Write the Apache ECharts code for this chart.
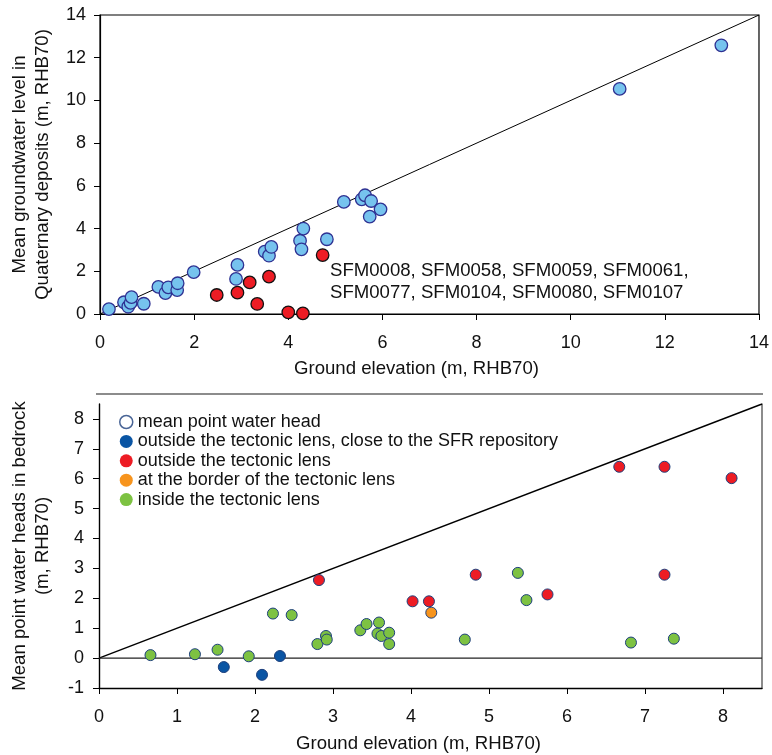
<!DOCTYPE html>
<html><head><meta charset="utf-8">
<script src="https://cdn.jsdelivr.net/npm/echarts@6/dist/echarts.min.js"></script>
<style>html,body{margin:0;padding:0;background:#fff}#c{width:772px;height:755px}</style>
</head><body><div id="c"></div>
<script>
// ---- Top panel: Quaternary deposits ----
const quatBlue = [[0.19,0.23],[0.51,0.55],[0.60,0.34],[0.65,0.52],[0.67,0.79],[0.93,0.48],[1.24,1.27],[1.39,0.98],[1.45,1.25],[1.64,1.12],[1.65,1.44],[1.99,1.96],[2.89,1.64],[2.92,2.30],[3.50,2.92],[3.59,2.73],[3.64,3.14],[4.25,3.43],[4.28,3.03],[4.32,4.00],[4.82,3.50],[5.18,5.25],[5.56,5.37],[5.63,5.56],[5.76,5.29],[5.73,4.56],[5.96,4.90],[11.04,10.54],[13.2,12.58]];
const quatRed = [[2.48,0.89],[2.92,1.00],[3.18,1.48],[3.34,0.47],[3.59,1.75],[4.00,0.08],[4.31,0.03],[4.73,2.76]];
const quatOneToOne = [[0,0],[14,14]];
const quatTicks = [0,2,4,6,8,10,12,14];
const annotationLines = ['SFM0008, SFM0058, SFM0059, SFM0061,','SFM0077, SFM0104, SFM0080, SFM0107'];

// ---- Bottom panel: bedrock ----
const bedGreen = [[0.66,0.10],[1.23,0.13],[1.52,0.28],[1.92,0.06],[2.23,1.49],[2.47,1.44],[2.80,0.47],[2.91,0.74],[2.92,0.62],[3.35,0.93],[3.43,1.14],[3.59,1.19],[3.57,0.82],[3.62,0.74],[3.72,0.85],[3.72,0.47],[4.69,0.62],[5.37,2.85],[5.48,1.94],[6.82,0.52],[7.37,0.65]];
const bedBlue = [[1.60,-0.30],[2.09,-0.56],[2.32,0.07]];
const bedRed = [[2.82,2.61],[4.02,1.90],[4.23,1.90],[4.83,2.79],[5.75,2.13],[6.67,6.40],[7.25,6.40],[8.11,6.02],[7.25,2.79]];
const bedOrange = [[4.26,1.52]];
const bedOneToOne = [[0,0],[8.5,8.5]];
const bedZero = [[0,0],[8.5,0]];
const bedXTicks = [0,1,2,3,4,5,6,7,8];
const bedYTicks = [-1,0,1,2,3,4,5,6,7,8];
const legendNames = ['mean point water head','outside the tectonic lens, close to the SFR repository','outside the tectonic lens','at the border of the tectonic lens','inside the tectonic lens'];

const FONT = "'Liberation Sans', Arial, sans-serif";
const txt = {color:'#111', fontFamily:FONT, fontSize:18};
const big = {color:'#111', fontFamily:FONT, fontSize:18.6};
const navy = '#1d3f7c';

const chart = echarts.init(document.getElementById('c'), null, {renderer:'canvas'});
chart.setOption({
  animation:false,
  backgroundColor:'#fff',
  textStyle:{fontFamily:FONT},
  grid:[
    {left:100, top:15, width:662, height:299, show:true, borderColor:'#000', borderWidth:1.2, backgroundColor:'transparent'},
    {left:97, top:404, width:665, height:284}
  ],
  xAxis:[
    {type:'value', gridIndex:0, min:0, max:14, interval:2,
     name:'Ground elevation (m, RHB70)', nameLocation:'middle', nameGap:45,
     nameTextStyle:Object.assign({padding:[0,26,0,0]}, big),
     axisLine:{lineStyle:{color:'#000', width:1.2}}, axisTick:{length:6, lineStyle:{color:'#000'}},
     axisLabel:Object.assign({margin:20}, txt), splitLine:{show:false}},
    {type:'value', gridIndex:1, min:0, max:8.5,
     name:'Ground elevation (m, RHB70)', nameLocation:'middle', nameGap:46,
     nameTextStyle:Object.assign({padding:[0,24,0,0]}, big),
     axisLine:{onZero:false, lineStyle:{color:'#000', width:1.4}},
     axisTick:{length:6, customValues:bedXTicks, lineStyle:{color:'#000'}},
     axisLabel:Object.assign({margin:20, customValues:bedXTicks}, txt), splitLine:{show:false}}
  ],
  yAxis:[
    {type:'value', gridIndex:0, min:0, max:14, interval:2,
     name:'Mean groundwater level in\nQuaternary deposits (m, RHB70)', nameLocation:'middle', nameGap:46,
     nameTextStyle:Object.assign({lineHeight:23}, big),
     axisLine:{lineStyle:{color:'#000', width:1.2}}, axisTick:{length:6, lineStyle:{color:'#000'}},
     axisLabel:Object.assign({margin:14}, txt), splitLine:{show:false}},
    {type:'value', gridIndex:1, min:-1, max:8.5,
     name:'Mean point water heads in bedrock\n(m, RHB70)', nameLocation:'middle', nameGap:45,
     nameTextStyle:Object.assign({lineHeight:23}, big),
     axisLine:{onZero:false, lineStyle:{color:'#000', width:1.4}},
     axisTick:{length:6, customValues:bedYTicks, lineStyle:{color:'#000'}},
     axisLabel:Object.assign({margin:15, customValues:bedYTicks}, txt), splitLine:{show:false}},
    {type:'value', gridIndex:1, min:-1, max:8.5, position:'right',
     axisLine:{show:true, onZero:false, lineStyle:{color:'#666', width:1.5}},
     axisTick:{show:false}, axisLabel:{show:false}, splitLine:{show:false}}
  ],
  legend:{
    left:114, top:408, orient:'vertical', itemWidth:13, itemHeight:13, itemGap:1.4,
    textStyle:Object.assign({lineHeight:18, padding:[0,0,0,0]}, txt),
    selectedMode:false,
    data:[
      {name:legendNames[0], icon:'circle', itemStyle:{color:'#fff', borderColor:navy, borderWidth:1.5}},
      {name:legendNames[1], icon:'circle', itemStyle:{color:'#0a55a4', borderWidth:0}},
      {name:legendNames[2], icon:'circle', itemStyle:{color:'#ed1c24', borderWidth:0}},
      {name:legendNames[3], icon:'circle', itemStyle:{color:'#f7941d', borderWidth:0}},
      {name:legendNames[4], icon:'circle', itemStyle:{color:'#7dc242', borderWidth:0}}
    ]
  },
  graphic:[
    {type:'line', shape:{x1:96, y1:394, x2:763, y2:394}, style:{stroke:'#666', lineWidth:1.5}, silent:true},
    {type:'text', left:330, top:260, style:{text:annotationLines.join('\n'), fill:'#111', font:"18.6px "+FONT, lineHeight:22}, silent:true}
  ],
  series:[
    {type:'line', xAxisIndex:0, yAxisIndex:0, data:quatOneToOne, symbol:'none', lineStyle:{color:'#000', width:1}, z:1, silent:true},
    {type:'scatter', name:'quatBlue', xAxisIndex:0, yAxisIndex:0, data:quatBlue, symbolSize:12.5,
     itemStyle:{color:'#76c3ee', borderColor:'#2e3192', borderWidth:1.3, opacity:1}, z:3},
    {type:'scatter', name:'quatRed', xAxisIndex:0, yAxisIndex:0, data:quatRed, symbolSize:12.5,
     itemStyle:{color:'#ed1c24', borderColor:'#111', borderWidth:1.3, opacity:1}, z:3},

    {type:'line', xAxisIndex:1, yAxisIndex:1, data:bedOneToOne, symbol:'none', lineStyle:{color:'#000', width:1.4}, z:1, silent:true},
    {type:'line', xAxisIndex:1, yAxisIndex:1, data:bedZero, symbol:'none', lineStyle:{color:'#222', width:1.4}, z:1, silent:true},
    {type:'scatter', name:legendNames[0], xAxisIndex:1, yAxisIndex:1, data:[], symbolSize:11,
     itemStyle:{color:'#fff', borderColor:navy, borderWidth:1.5}},
    {type:'scatter', name:legendNames[4], xAxisIndex:1, yAxisIndex:1, data:bedGreen, symbolSize:11,
     itemStyle:{color:'#7dc242', borderColor:navy, borderWidth:1, opacity:1}, z:3},
    {type:'scatter', name:legendNames[1], xAxisIndex:1, yAxisIndex:1, data:bedBlue, symbolSize:11,
     itemStyle:{color:'#0a55a4', borderColor:navy, borderWidth:1, opacity:1}, z:3},
    {type:'scatter', name:legendNames[2], xAxisIndex:1, yAxisIndex:1, data:bedRed, symbolSize:11,
     itemStyle:{color:'#ed1c24', borderColor:navy, borderWidth:1, opacity:1}, z:3},
    {type:'scatter', name:legendNames[3], xAxisIndex:1, yAxisIndex:1, data:bedOrange, symbolSize:11,
     itemStyle:{color:'#f7941d', borderColor:navy, borderWidth:1, opacity:1}, z:4}
  ]
});
</script></body></html>
